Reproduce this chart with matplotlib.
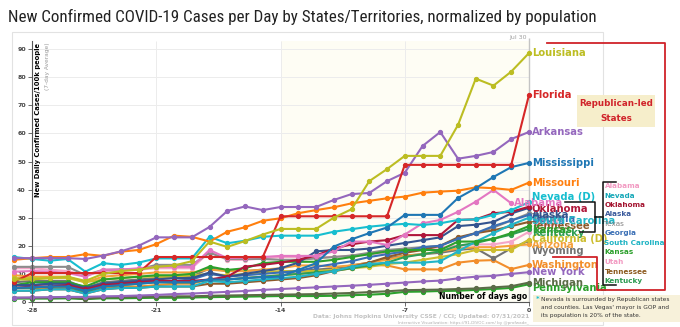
import numpy as np
import matplotlib.pyplot as plt
from matplotlib import font_manager
from matplotlib.patches import Rectangle

# days before Jul 30 (0 = latest day)
days = list(range(-29, 1))

# 7-day average of new daily cases per 100k people
louisiana = [8, 8, 8.5, 9, 7.5, 10, 11, 11.5, 12.5, 13, 14.5, 21.5, 19.6, 21.7, 24,
             26, 26, 26, 30, 33, 43, 47.3, 52, 52, 52, 63, 79.5, 77, 82, 88.6]
florida = [7.2, 10.3, 10.3, 10.3, 10.3, 10.3, 10.3, 10.3, 16, 16, 16, 16, 16, 16, 16,
           30.5, 30.5, 30.5, 30.5, 30.5, 30.5, 30.5, 48.8, 48.8, 48.8, 48.8, 48.8, 48.8, 48.8, 73.7]
arkansas = [15.6, 15.6, 15.6, 15.6, 15.3, 16.5, 18, 20, 23, 23, 23, 26.7, 32.4, 34, 32.7,
            33.8, 33.8, 33.8, 36.3, 38.4, 38.8, 43, 46, 55.5, 60.5, 51, 52, 53.4, 58, 60.5]
mississippi = [5, 5.2, 5.5, 5.5, 4, 5.5, 6, 6.5, 7, 7, 7, 8, 8, 8.5, 8.8,
               9, 11.4, 13.8, 19.7, 22.3, 24.5, 26.5, 31, 31, 31, 37, 40.5, 44.5, 48, 49.5]
missouri = [15, 15.6, 16, 16, 17, 16.4, 17.9, 18.5, 20.6, 23.6, 23.2, 21.5, 25, 26.6, 28.9,
            29.8, 31.6, 32.7, 33.7, 35.1, 36, 36.9, 37.5, 38.9, 39.3, 39.6, 40.8, 40.5, 39.9, 42.5]
nevada = [16, 15.3, 14.7, 15.3, 10.8, 13.8, 13.2, 14, 15.5, 15.5, 15.5, 23.2, 20.9, 21.8, 23.2,
          23.6, 23.6, 23.6, 25, 25.9, 26.8, 27.4, 27.8, 27.4, 28, 29.2, 29.4, 31, 32.7, 35.5]
alabama = [10.8, 11, 10.8, 10.3, 9, 11.5, 11.5, 12, 12.5, 12.5, 12.5, 18.5, 15.6, 15.8, 16,
           16.4, 16.4, 16.4, 18, 21.5, 21.5, 20.3, 24, 28, 29.2, 32.1, 35.7, 39.9, 35.1, np.nan]
oklahoma = [5, 5.5, 5.5, 6, 4.5, 6, 6.5, 7, 7.5, 7.5, 7.5, 8, 9, 12.6, 13.2,
            14, 15, 16.5, 19, 20.5, 21.5, 22, 23.8, 23.8, 23.8, 29.2, 29.4, 31.6, 32.1, 33.9]
alaska = [6, 6, 6.5, 6.5, 5, 6.5, 7, 7.5, 8, 8.5, 8.5, 10.5, 9, 10, 11,
          12, 14, 18, 18.5, 18.5, 19, 20, 21, 22, 23, 27, 27.5, 28.5, 31.5, 33.5]
texas = [12.5, 12.5, 12.5, 12.5, 9.6, 11.4, 11.6, 11.6, 13.2, 13.2, 13.2, 17.5, 15.3, 15.3, 15.3,
         15, 15, 15.5, 16, 16.5, 17.5, 18.5, 19, 19.5, 20, 22.5, 24.5, 26.5, 29, 31.5]
georgia = [6, 6, 6.5, 6.5, 4.5, 6.5, 7, 7, 7.5, 7.5, 8, 10, 9, 9.5, 10,
           10.5, 11, 12.5, 13.5, 14.5, 16, 17, 18, 19.5, 20, 22.5, 24.5, 27, 29, 31]
south_carolina = [4, 4, 4.5, 4.5, 3, 4.5, 5, 5, 5.5, 5.5, 5.5, 7.5, 7, 7.5, 8,
                  8.5, 9, 10, 11, 12.5, 13.5, 14, 14, 14, 14.5, 18, 21.5, 24.5, 27.5, 30]
utah = [12, 12, 11.5, 11, 9.5, 11, 11, 11.5, 12, 12, 12, 17.8, 15, 15, 15.5,
        16, 16, 16, 16, 16.5, 17, 17.5, 18, 19, 19.5, 20, 20.5, 20.5, 21.5, 25]
tennessee = [4, 4, 4.5, 4.5, 3, 4.5, 5, 5, 5.5, 5.5, 5.5, 6.5, 6.5, 7, 7.5,
             8, 8.5, 9.5, 11, 12.5, 14, 16, 17.5, 18.5, 20, 23, 24.5, 25.5, 27, 28.5]
kansas = [6, 7, 7, 7, 5.5, 8, 8.5, 9, 9.5, 9.5, 10, 12.6, 11.4, 12, 13.8,
          14.3, 14.3, 14.3, 15, 16, 17, 18, 18.5, 18.5, 18.5, 21.5, 21.5, 22.5, 24.5, 27]
kentucky = [5, 5, 5.5, 5.5, 3.5, 5.5, 6, 6.5, 7, 7, 7, 8, 8, 8.5, 9,
            9.5, 10, 10.5, 11, 12, 13, 14, 16, 17, 18, 20, 21, 22.5, 24, 26]
california = [8.5, 8.5, 8.5, 8.5, 7, 8, 8.5, 9, 9, 9, 9.5, 10, 9.5, 10, 10.5,
               11, 11, 11, 11.5, 12, 12.5, 13.5, 14, 15, 16, 17, 18.5, 18.5, 18.5, 22.2]
arizona = [9.5, 9, 9, 9, 7, 9, 9.5, 10, 10.5, 10.5, 10.5, 11.5, 11, 11, 11.5,
           12, 13, 13, 12.5, 13, 14, 15, 16.5, 17, 18, 19, 19.5, 19.5, 20, 20.5]
wyoming = [7, 7.5, 7.5, 7.5, 5, 7, 7.5, 8, 8.5, 9, 9, 12, 11, 11, 11.5,
           10.5, 11, 11.5, 12, 13, 14, 15.5, 16.5, 17, 17.5, 18.5, 19.1, 15.5, 19.1, 21.8]
washington = [5, 5, 5, 5, 3.5, 5, 5.5, 5.5, 6, 6.5, 6.5, 8, 8, 8.5, 9,
              9.5, 10, 10.5, 11, 12, 13.2, 13, 11.6, 11.6, 11.6, 14, 14.7, 14.9, 11.7, 13.2]
new_york = [1.5, 1.6, 1.7, 1.8, 1.8, 2, 2.1, 2.3, 2.5, 2.8, 3, 3.3, 3.6, 3.9, 4.3,
            4.6, 4.9, 5.2, 5.5, 5.8, 6.1, 6.5, 6.9, 7.3, 7.6, 8.4, 9, 9.3, 10, 10.6]
michigan = [1.5, 1.5, 1.5, 1.6, 1.2, 1.6, 1.7, 1.8, 1.9, 2, 2, 2.2, 2.3, 2.4, 2.5,
            2.6, 2.7, 2.8, 3, 3.2, 3.5, 3.8, 4.2, 4.3, 4.4, 4.6, 4.8, 5.2, 5.6, 6.9]
pennsylvania = [1.2, 1.2, 1.2, 1.3, 1, 1.3, 1.3, 1.4, 1.5, 1.5, 1.6, 1.7, 1.8, 1.9, 2,
                2.1, 2.1, 2.1, 2.2, 2.4, 2.6, 2.9, 3.6, 3.7, 3.9, 4, 4.3, 4.6, 5, 6.3]

# drawing order: bottom first
series = [
    ('Pennsylvania', pennsylvania, '#2ca02c'),
    ('Michigan', michigan, '#5b6b47'),
    ('New York', new_york, '#9467bd'),
    ('Washington', washington, '#f28e2b'),
    ('Wyoming', wyoming, '#737373'),
    ('Arizona', arizona, '#f5a03a'),
    ('California', california, '#cdbd2e'),
    ('Utah', utah, '#f4a6c8'),
    ('Texas', texas, '#8c8c8c'),
    ('Kentucky', kentucky, '#2f9e55'),
    ('Tennessee', tennessee, '#8c5a2b'),
    ('Georgia', georgia, '#3a6fb5'),
    ('South Carolina', south_carolina, '#22b5c6'),
    ('Kansas', kansas, '#2ca02c'),
    ('Alaska', alaska, '#34548f'),
    ('Oklahoma', oklahoma, '#b0173a'),
    ('Alabama', alabama, '#e377c2'),
    ('Nevada', nevada, '#17becf'),
    ('Missouri', missouri, '#ff7f0e'),
    ('Mississippi', mississippi, '#1f77b4'),
    ('Arkansas', arkansas, '#9467bd'),
    ('Florida', florida, '#d62728'),
    ('Louisiana', louisiana, '#bcbd22'),
]

# where the end labels sit (some pushed apart)
label_pos = {
    'Louisiana': 88.6, 'Florida': 73.7, 'Arkansas': 60.5, 'Mississippi': 49.5,
    'Missouri': 42.5, 'Nevada': 37.4, 'Alabama': 35.2, 'Oklahoma': 33.0,
    'Alaska': 31.0, 'Texas': 30.0, 'Georgia': 29.6, 'South Carolina': 28.9,
    'Utah': 28.0, 'Tennessee': 27.0, 'Kansas': 25.6, 'Kentucky': 24.6,
    'California': 22.4, 'Arizona': 20.3, 'Wyoming': 18.1, 'Washington': 13.2,
    'New York': 10.6, 'Michigan': 6.8, 'Pennsylvania': 5.0,
}
label_text = {'Nevada': 'Nevada (D)', 'California': 'California (D)'}

legend_states = ['Alabama', 'Nevada', 'Oklahoma', 'Alaska', 'Texas', 'Georgia',
                 'South Carolina', 'Kansas', 'Utah', 'Tennessee', 'Kentucky']
legend_colors = ['#f29ac2', '#17a8b8', '#a3122e', '#3a5a9c', '#808080', '#3a6fb5',
                 '#20b4c4', '#2ca02c', '#f29ac2', '#8c5a1e', '#2a9a50']

installed = {f.name for f in font_manager.fontManager.ttflist}
title_font = 'Roboto'
for cand in ['Roboto Condensed', 'Liberation Sans Narrow', 'Open Sans Condensed']:
    if cand in installed:
        title_font = cand
        break

W, H = 680, 327
fig = plt.figure(figsize=(W / 100, H / 100), dpi=100)
title = fig.text(8 / W, 1 - 17 / H,
                 'New Confirmed COVID-19 Cases per Day by States/Territories, normalized by population',
                 fontsize=12, family=title_font, va='center', ha='left', color='#222222')
# shrink the title so it spans the chart panel width
fig.canvas.draw()
tw = title.get_window_extent().width
title.set_fontsize(12 * 590 / tw)

ax = fig.add_axes([12 / W, 1 - 325 / H, 591 / W, 293 / H])
ax.set_xlim(-29.13, 4.17)
ax.set_ylim(-8.2, 96.1)
ax.set_facecolor('white')

for s in ['top', 'right']:
    ax.spines[s].set_visible(False)
ax.spines['left'].set_position(('data', -28))
ax.spines['left'].set_bounds(0, 93)
ax.spines['bottom'].set_position(('data', 0))
ax.spines['bottom'].set_bounds(-28, 0)
for s in ['left', 'bottom']:
    ax.spines[s].set_color('#555555')
    ax.spines[s].set_linewidth(0.8)

ax.set_yticks(range(0, 100, 10))
ax.set_xticks([-28, -21, -14, -7, 0])
ax.set_xticklabels(['-28', '-21', '-14', '-7', '0'])
ax.tick_params(axis='both', length=3, width=0.6, color='#555555', labelsize=4.5,
               labelcolor='#444444', pad=1.5)
for lab in ax.get_xticklabels() + ax.get_yticklabels():
    lab.set_fontweight('bold')

ax.add_patch(Rectangle((0, 0), 1, 1, transform=ax.transAxes, fill=False,
                       ec='#e2e2e2', lw=0.8, clip_on=False, zorder=0))
ax.fill_between([-14, 0], 0, 93, color='#fefdf4', zorder=0, lw=0)
ax.hlines(range(10, 100, 10), -28, 0, color='#ececec', lw=0.7, zorder=0.5)
ax.vlines([-21, -14, -7], 0, 93, color='#ececec', lw=0.7, zorder=0.5)
ax.vlines(0, 0, 94, color='#c4c4c4', lw=1.0, zorder=1)
ax.text(-0.1, 94.3, 'Jul 30', fontsize=4.5, color='#a0a0a0', ha='right', va='center')

for i, (name, vals, col) in enumerate(series):
    ax.plot(days, vals, color=col, lw=1.5, marker='o', ms=2.8, zorder=2 + i * 0.01)

for name, vals, col in series:
    v = np.array(vals, dtype=float)
    last = np.where(~np.isnan(v))[0][-1]
    ax.text(days[last] + 0.15, label_pos[name], label_text.get(name, name), color=col,
            fontsize=7.2, fontweight='bold', va='center', ha='left', zorder=4)

ax.text(-27.66, 92.3, 'New Daily Confirmed Cases/100k people', rotation=90, fontsize=4.9,
        fontweight='bold', va='top', ha='center', zorder=5)
ax.text(-27.15, 92.3, '(7-day Average)', rotation=90, fontsize=4.2, color='#9a9a9a',
        va='top', ha='center', zorder=5)

ax.text(-0.1, 1.9, 'Number of days ago', fontsize=5.6, fontweight='bold', ha='right',
        va='center', zorder=6)
ax.text(0, -5.0, 'Data: Johns Hopkins University CSSE / CCI; Updated: 07/31/2021',
        fontsize=4.3, fontweight='bold', color='#c2c2c2', ha='right', va='center')
ax.text(0, -7.6, 'Interactive Visualization: https://91-DIVOC.com/ by @profwade_',
        fontsize=3, color='#b0b0b0', ha='right', va='center')

# annotation layer in pixel coordinates
ov = fig.add_axes([0, 0, 1, 1], zorder=5)
ov.set_xlim(0, W)
ov.set_ylim(H, 0)
ov.axis('off')
ov.patch.set_alpha(0)

ov.plot([547, 665, 665, 597, 597, 553], [43, 43, 290, 290, 257, 257], color='#d0232a', lw=1.3)
ov.add_patch(Rectangle((577, 95), 78, 32, fc='#f6eecb', ec='none'))
ov.text(616, 103.5, 'Republican-led', color='#d0232a', fontsize=6.3, fontweight='bold',
        ha='center', va='center')
ov.text(616, 118.5, 'States', color='#d0232a', fontsize=6.3, fontweight='bold',
        ha='center', va='center')

ov.plot([565, 595, 595, 580], [202, 202, 232, 232], color='#111111', lw=1.1)
ov.plot([595, 603], [217, 217], color='#111111', lw=1.1)
ov.plot([616, 603, 603, 616], [182, 182, 285, 285], color='#111111', lw=1.1)
for k, (nm, col) in enumerate(zip(legend_states, legend_colors)):
    ov.text(604.5, 186 + k * 9.5, nm, color=col, fontsize=5.2,
            fontweight='normal' if nm == 'Texas' else 'bold', ha='left', va='center')

ov.add_patch(Rectangle((533, 295), 147, 27, fc='#f7f1da', ec='none'))
ov.text(536, 299, '*', color='#17becf', fontsize=5, fontweight='bold', ha='left', va='center')
ov.text(541, 299, 'Nevada is surrounded by Republican states', fontsize=4.2,
        color='#333333', ha='left', va='center')
ov.text(541, 307.5, "and counties. Las Vegas' mayor is GOP and", fontsize=4.2,
        color='#333333', ha='left', va='center')
ov.text(541, 316, 'its population is 20% of the state.', fontsize=4.2,
        color='#333333', ha='left', va='center')

fig.savefig('out.png', dpi=100)
